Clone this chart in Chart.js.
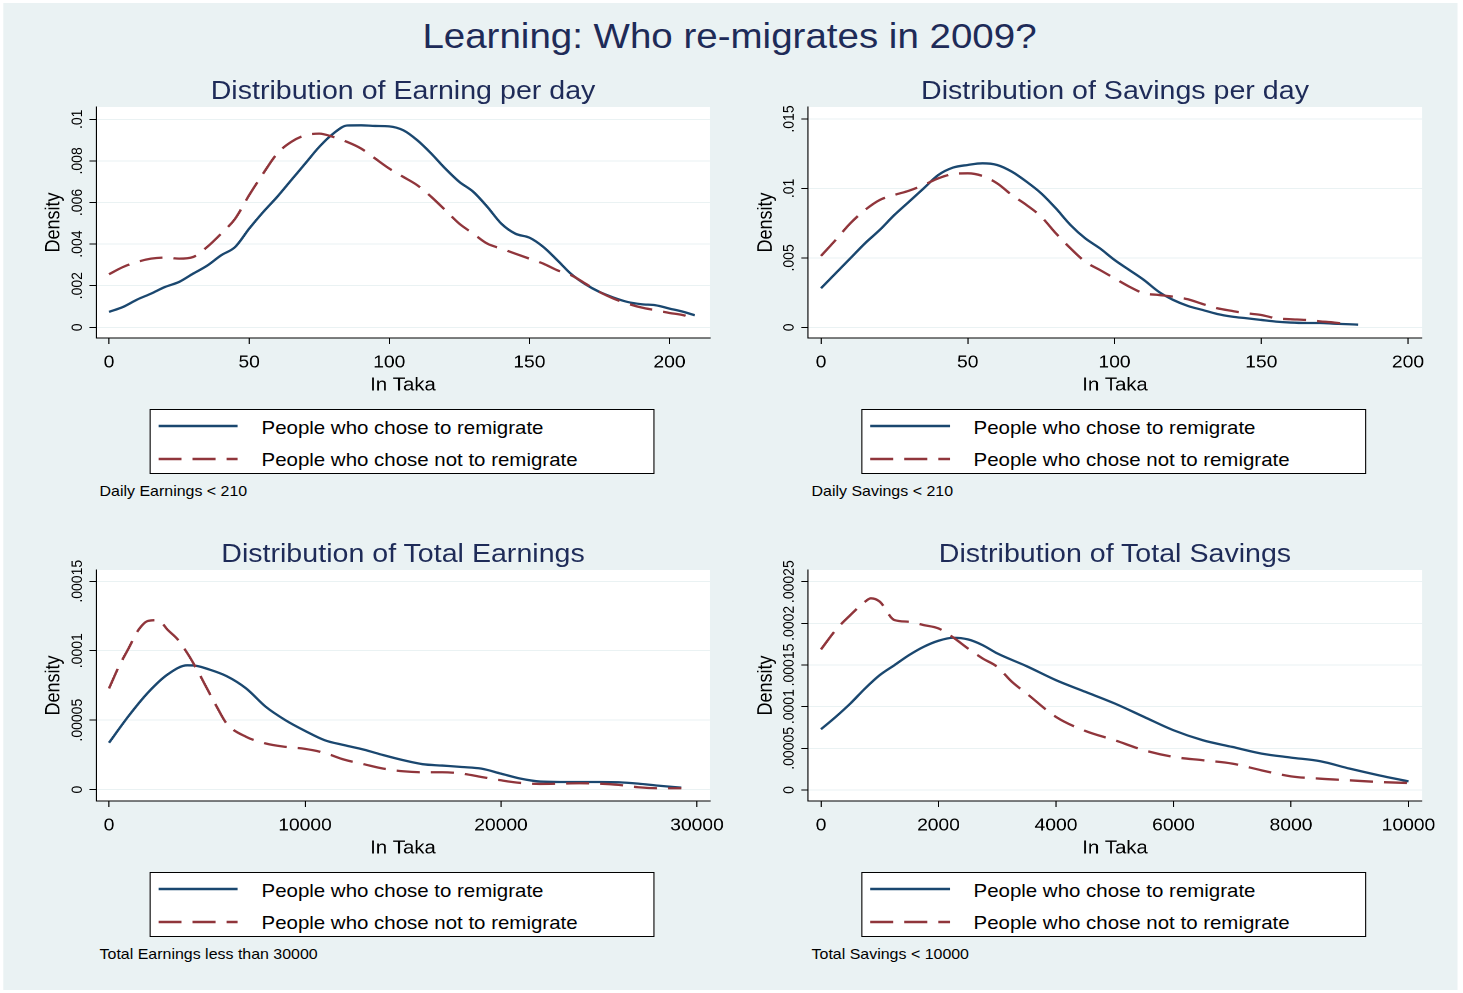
<!DOCTYPE html>
<html>
<head>
<meta charset="utf-8">
<title>Learning: Who re-migrates in 2009?</title>
<script src="https://cdn.jsdelivr.net/npm/chart.js@4.4.1/dist/chart.umd.min.js"></script>
<style>
  body { margin: 0; background: #fff; overflow: hidden; }
  #page { position: absolute; left: 0; top: 0; width: 1330px; height: 993px;
          transform: scaleX(1.1); transform-origin: 0 0;
          font-family: "Liberation Sans", Arial, Helvetica, sans-serif; }
  #bg { position: absolute; background: #eaf2f3; }
  .txt { position: absolute; white-space: nowrap; line-height: 1; }
  .legend { position: absolute; background: #fff; border: 1px solid #000; box-sizing: border-box; }
  canvas, svg { position: absolute; }
</style>
</head>
<body>
<div id="page"><div id="bg"></div></div>
<script>
// ---- data ----
const legendLabels = ['People who chose to remigrate', 'People who chose not to remigrate'];

// Earning per day
const earnDayX = [0,5,10,15,20,25,30,35,40,45,50,55,60,65,70,75,80,85,90,95,100,105,110,115,120,125,130,135,140,145,150,155,160,165,170,175,180,185,190,195,200,205,209];
const earnDayRemig = [.00074,.00098,.00133,.00162,.00194,.00218,.00258,.00296,.00346,.00386,.00474,.00554,.00627,.00707,.00787,.00867,.00931,.00970,.00971,.00968,.00966,.00947,.00899,.00835,.00763,.00699,.00651,.00579,.00498,.00450,.00431,.00386,.00322,.00255,.00207,.00170,.00143,.00122,.00111,.00106,.00090,.00074,.00058];
const earnDayStay = [.00255,.00290,.00314,.00330,.00335,.00330,.00338,.00386,.00450,.00522,.00635,.00739,.00835,.00891,.00923,.00931,.00915,.00891,.00859,.00811,.00763,.00723,.00683,.00627,.00563,.00498,.00450,.00402,.00378,.00354,.00330,.00306,.00274,.00250,.00210,.00170,.00138,.00114,.00095,.00082,.00069,.00058,.00042];
const earnDayXTicks = [0,50,100,150,200];
const earnDayYTicks = [0,.002,.004,.006,.008,.01];
const earnDayYLabels = ['0','.002','.004','.006','.008','.01'];

// Savings per day
const saveDayRemigX = [0,5,10,15,20,25,30,35,40,45,50,55,60,65,70,75,80,85,90,95,100,105,110,115,120,125,130,135,140,145,150,155,160,165,170,175,180,183];
const saveDayRemig = [.00281,.00389,.00497,.00605,.00701,.00809,.00905,.01001,.01097,.01150,.01169,.01181,.01169,.01121,.01049,.00965,.00857,.00737,.00641,.00569,.00485,.00413,.00341,.00257,.00197,.00154,.00125,.00096,.00077,.00065,.00053,.00041,.00034,.00031,.00031,.00026,.00022,.00019];
const saveDayStayX = [0,5,10,15,20,25,30,35,40,45,50,55,60,65,70,75,80,85,90,95,100,105,110,115,120,125,130,135,140,145,150,155,160,165,170,175,178];
const saveDayStay = [.00514,.00629,.00749,.00845,.00917,.00953,.00984,.01025,.01073,.01104,.01109,.01090,.01037,.00953,.00881,.00797,.00677,.00569,.00473,.00413,.00353,.00293,.00245,.00233,.00221,.00202,.00168,.00137,.00118,.00101,.00089,.00065,.00058,.00053,.00043,.00034,.00026];
const saveDayXTicks = [0,50,100,150,200];
const saveDayYTicks = [0,.005,.01,.015];
const saveDayYLabels = ['0','.005','.01','.015'];

// Total earnings
const totEarnRemigX = [0,1000,2000,3000,4000,4500,5000,6000,7000,8000,9000,10000,11000,12000,13000,14000,15000,16000,17000,18000,19000,20000,21000,22000,23000,24000,25000,26000,27000,28000,29200];
const totEarnRemig = [3.37e-5,5.3e-5,7.0e-5,8.3e-5,8.95e-5,8.9e-5,8.7e-5,8.17e-5,7.28e-5,5.96e-5,5.0e-5,4.23e-5,3.56e-5,3.2e-5,2.88e-5,2.48e-5,2.12e-5,1.83e-5,1.73e-5,1.63e-5,1.51e-5,1.15e-5,7.9e-6,5.8e-6,5.5e-6,5.5e-6,5.5e-6,5.3e-6,4.3e-6,2.9e-6,1.4e-6];
const totEarnStayX = [0,500,1000,1500,2000,2500,3000,3500,4000,4500,5000,5500,6000,7000,8000,9000,10000,11000,12000,13000,14000,15000,16000,17000,18000,19000,20000,21000,22000,23000,24000,25000,26000,27000,28000,29200];
const totEarnStay = [7.28e-5,8.85e-5,1.017e-4,1.149e-4,1.215e-4,1.22e-4,1.149e-4,1.082e-4,9.81e-5,8.61e-5,7.28e-5,5.96e-5,4.76e-5,3.8e-5,3.32e-5,3.08e-5,2.93e-5,2.64e-5,2.16e-5,1.83e-5,1.51e-5,1.32e-5,1.25e-5,1.25e-5,1.15e-5,9.1e-6,6.7e-6,4.8e-6,4.1e-6,4.3e-6,4.6e-6,4.3e-6,3.4e-6,1.7e-6,1.0e-6,1.0e-6];
const totEarnXTicks = [0,10000,20000,30000];
const totEarnYTicks = [0,.00005,.0001,.00015];
const totEarnYLabels = ['0','.00005','.0001','.00015'];

// Total savings
const totSaveRemigX = [0,250,500,750,1000,1250,1500,1750,2000,2250,2500,2750,3000,3500,4000,4500,5000,5500,6000,6500,7000,7500,8000,8500,9000,9500,10000];
const totSaveRemig = [7.29e-5,8.77e-5,1.038e-4,1.218e-4,1.378e-4,1.498e-4,1.619e-4,1.719e-4,1.791e-4,1.827e-4,1.807e-4,1.739e-4,1.639e-4,1.486e-4,1.318e-4,1.178e-4,1.038e-4,8.77e-5,7.17e-5,5.97e-5,5.17e-5,4.37e-5,3.89e-5,3.45e-5,2.56e-5,1.76e-5,1.04e-5];
const totSaveStayX = [0,250,500,750,850,1000,1250,1500,1750,2000,2250,2500,2750,3000,3250,3500,4000,4500,5000,5500,6000,6500,7000,7500,8000,8500,9000,9500,10000];
const totSaveStay = [1.687e-4,1.919e-4,2.099e-4,2.26e-4,2.3e-4,2.26e-4,2.039e-4,2.019e-4,1.979e-4,1.939e-4,1.831e-4,1.699e-4,1.579e-4,1.478e-4,1.298e-4,1.158e-4,8.77e-5,7.09e-5,5.97e-5,4.77e-5,3.97e-5,3.57e-5,3.17e-5,2.36e-5,1.64e-5,1.36e-5,1.16e-5,9.6e-6,8.4e-6];
const totSaveXTicks = [0,2000,4000,6000,8000,10000];
const totSaveYTicks = [0,.00005,.0001,.00015,.0002,.00025];
const totSaveYLabels = ['0','.00005','.0001','.00015','.0002','.00025'];

// ---- look ----
// the reference is drawn about 10% wider than tall, so the page is laid out
// narrow and stretched back with scaleX; X() converts reference x to page x
const S = 1.1;
const X = r => r / S;
const FONT = '"Liberation Sans", Arial, Helvetica, sans-serif';
const NAVY = '#1a476f', MAROON = '#90353b', TITLE = '#1e2b58';
const DASH = [21, 10];
const LW = 2.3;

const page = document.getElementById('page');
const bg = document.getElementById('bg');
bg.style.left = X(3) + 'px'; bg.style.top = '3px';
bg.style.width = X(1455) + 'px'; bg.style.height = '987px';

function text(str, o) {
  const d = document.createElement('div');
  d.className = 'txt';
  d.textContent = str;
  d.style.fontSize = o.size + 'px';
  d.style.color = o.color || '#000';
  d.style.top = (o.cy - 0.49 * o.size) + 'px';
  if (o.cx !== undefined) {
    d.style.left = (X(o.cx) - 500) + 'px';
    d.style.width = '1000px';
    d.style.textAlign = 'center';
  } else {
    d.style.left = X(o.l) + 'px';
  }
  page.appendChild(d);
}

// white plot region + vertical y tick labels (Stata style)
const yTickText = {
  id: 'yTickText',
  beforeDraw(chart) {
    const {ctx, chartArea: a} = chart;
    ctx.save();
    ctx.fillStyle = '#fff';
    ctx.fillRect(a.left, a.top, a.right - a.left, a.bottom - a.top);
    ctx.restore();
  },
  afterDraw(chart, args, opts) {
    const {ctx, chartArea: a, scales: {y}} = chart;
    ctx.save();
    ctx.font = '14px ' + FONT;
    ctx.fillStyle = '#000';
    ctx.textAlign = 'center';
    ctx.textBaseline = 'middle';
    y.ticks.forEach((t, i) => {
      ctx.save();
      ctx.translate(a.left - X(18.5), y.getPixelForValue(t.value));
      ctx.rotate(-Math.PI / 2);
      ctx.fillText(opts.labels[i], 0, 0);
      ctx.restore();
    });
    ctx.restore();
  }
};

function sample(x, y, color, dash) {
  const ns = 'http://www.w3.org/2000/svg';
  const svg = document.createElementNS(ns, 'svg');
  const w = X(80);
  svg.setAttribute('width', w);
  svg.setAttribute('height', 4);
  svg.style.left = X(x) + 'px';
  svg.style.top = (y - 2) + 'px';
  const ln = document.createElementNS(ns, 'line');
  ln.setAttribute('x1', 0); ln.setAttribute('x2', w);
  ln.setAttribute('y1', 2); ln.setAttribute('y2', 2);
  ln.setAttribute('stroke', color);
  ln.setAttribute('stroke-width', LW);
  if (dash) ln.setAttribute('stroke-dasharray', dash.join(' '));
  svg.appendChild(ln);
  page.appendChild(svg);
}

function panel(p) {
  const CW = 630, CH = 313, TOP = 20;
  const b = p.box;
  const left = Math.floor(X(b.l)) - 52;
  const yW = X(b.l) - left;
  const rightPad = left + CW - X(b.r);
  const xH = CH - TOP - (b.b - b.t);

  const cv = document.createElement('canvas');
  cv.width = CW; cv.height = CH;
  cv.style.left = left + 'px';
  cv.style.top = (b.t - TOP) + 'px';
  page.appendChild(cv);

  new Chart(cv, {
    type: 'line',
    data: {
      datasets: [
        { label: legendLabels[0], data: p.x1.map((v, i) => ({x: v, y: p.y1[i]})),
          borderColor: NAVY, borderWidth: LW, order: 1 },
        { label: legendLabels[1], data: p.x2.map((v, i) => ({x: v, y: p.y2[i]})),
          borderColor: MAROON, borderWidth: LW, borderDash: DASH, order: 0 }
      ]
    },
    options: {
      responsive: false,
      animation: false,
      devicePixelRatio: 2,
      layout: { padding: { left: 0, top: TOP, right: rightPad, bottom: 0 } },
      elements: { point: { radius: 0 }, line: { cubicInterpolationMode: 'monotone' } },
      plugins: {
        legend: { display: false },
        tooltip: { enabled: false },
        yTickText: { labels: p.yLabels }
      },
      scales: {
        x: {
          type: 'linear', min: p.xRange[0], max: p.xRange[1],
          afterBuildTicks: s => { s.ticks = p.xTicks.map(v => ({value: v})); },
          afterFit: s => { s.height = xH; s.paddingLeft = 0; s.paddingRight = 0; },
          ticks: { autoSkip: false, maxRotation: 0, padding: 8, color: '#000',
                   font: { family: FONT, size: 17.5 }, callback: v => String(v) },
          grid: { drawOnChartArea: false, drawTicks: true, tickLength: 6, tickColor: '#000' },
          border: { color: '#000', width: 1 },
          title: { display: true, text: 'In Taka', color: '#000',
                   font: { family: FONT, size: 18.5 }, padding: { top: 0, bottom: 3.4 } }
        },
        y: {
          type: 'linear', min: p.yRange[0], max: p.yRange[1],
          afterBuildTicks: s => { s.ticks = p.yTicks.map(v => ({value: v})); },
          afterFit: s => { s.width = yW; s.paddingTop = 0; s.paddingBottom = 0; },
          ticks: { display: false },
          grid: { color: '#eaf2f3', lineWidth: 1, drawTicks: true, tickLength: 6, tickColor: '#000' },
          border: { color: '#000', width: 1 },
          title: { display: true, text: 'Density', color: '#000',
                   font: { family: FONT, size: 18 },
                   padding: { top: yW - X(42) - 10.8, bottom: 0 } }
        }
      }
    },
    plugins: [yTickText]
  });

  // panel title
  text(p.title, { cx: (b.l + b.r) / 2, cy: b.t - 17.7, size: 26, color: TITLE });

  // legend box
  const bl = b.l + 53.5, bt = b.b + 71.3;
  const box = document.createElement('div');
  box.className = 'legend';
  box.style.left = X(bl) + 'px';
  box.style.top = bt + 'px';
  box.style.width = X(505) + 'px';
  box.style.height = '65px';
  page.appendChild(box);
  sample(bl + 8.5, bt + 17, NAVY, null);
  sample(bl + 8.5, bt + 50, MAROON, DASH);
  text(legendLabels[0], { l: bl + 112, cy: bt + 18.8, size: 18.6 });
  text(legendLabels[1], { l: bl + 112, cy: bt + 51, size: 18.6 });

  // note under legend
  text(p.note, { l: b.l + 3.6, cy: bt + 65 + 16.5, size: 14.5 });
}

text('Learning: Who re-migrates in 2009?', { cx: 729.5, cy: 34.7, size: 35, color: TITLE });

panel({
  title: 'Distribution of Earning per day', note: 'Daily Earnings < 210',
  box: { l: 96, t: 107, r: 710, b: 338 },
  xRange: [-4.64, 214.45], yRange: [-0.000514, 0.01059],
  x1: earnDayX, y1: earnDayRemig, x2: earnDayX, y2: earnDayStay,
  xTicks: earnDayXTicks, yTicks: earnDayYTicks, yLabels: earnDayYLabels
});
panel({
  title: 'Distribution of Savings per day', note: 'Daily Savings < 210',
  box: { l: 808, t: 107, r: 1422, b: 338 },
  xRange: [-4.43, 204.77], yRange: [-0.00077, 0.015864],
  x1: saveDayRemigX, y1: saveDayRemig, x2: saveDayStayX, y2: saveDayStay,
  xTicks: saveDayXTicks, yTicks: saveDayYTicks, yLabels: saveDayYLabels
});
panel({
  title: 'Distribution of Total Earnings', note: 'Total Earnings less than 30000',
  box: { l: 96, t: 570, r: 710, b: 801 },
  xRange: [-663, 30663], yRange: [-0.0000082, 0.0001581],
  x1: totEarnRemigX, y1: totEarnRemig, x2: totEarnStayX, y2: totEarnStay,
  xTicks: totEarnXTicks, yTicks: totEarnYTicks, yLabels: totEarnYLabels
});
panel({
  title: 'Distribution of Total Savings', note: 'Total Savings < 10000',
  box: { l: 808, t: 570, r: 1422, b: 801 },
  xRange: [-221, 10230], yRange: [-0.0000132, 0.000264],
  x1: totSaveRemigX, y1: totSaveRemig, x2: totSaveStayX, y2: totSaveStay,
  xTicks: totSaveXTicks, yTicks: totSaveYTicks, yLabels: totSaveYLabels
});
</script>
</body>
</html>
